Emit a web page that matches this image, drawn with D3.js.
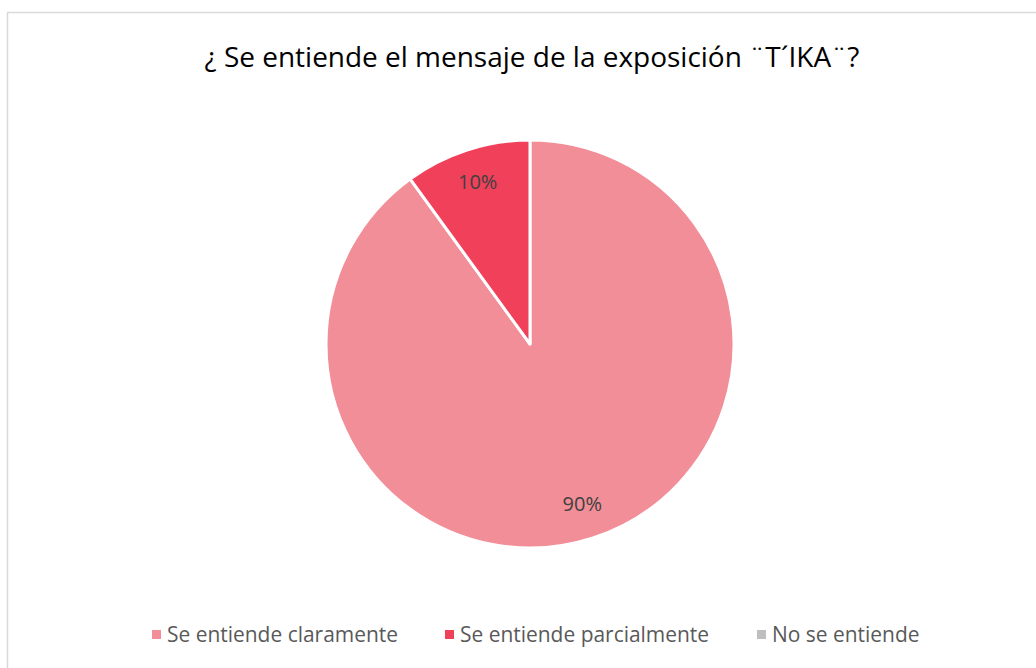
<!DOCTYPE html>
<html>
<head>
<meta charset="utf-8">
<script src="https://cdn.jsdelivr.net/npm/d3@7"></script>
<style>
  html, body { margin: 0; padding: 0; background: #fff; }
  svg { display: block; }
</style>
</head>
<body>
<svg id="chart" width="1036" height="668"></svg>
<script>
// Survey answers
const title = "¿ Se entiende el mensaje de la exposición ¨T´IKA¨?";
const categories = ["Se entiende claramente", "Se entiende parcialmente", "No se entiende"];
const values = [90, 10, 0];
const colors = ["#F28E98", "#F0405A", "#BFBFBF"];

const W = 1036, H = 668;
const svg = d3.select("#chart");
const font = "'Open Sans', 'Noto Sans', sans-serif";

// chart area frame
svg.append("rect")
  .attr("x", 7.5).attr("y", 12.5)
  .attr("width", W + 20).attr("height", H + 20)
  .attr("fill", "#fff").attr("stroke", "#D9D9D9").attr("stroke-width", 1.5);

// title, sized to span the title width
const t = svg.append("text")
  .attr("x", 532).attr("y", 67)
  .attr("text-anchor", "middle")
  .attr("font-family", font)
  .attr("font-size", 24)
  .attr("fill", "#000")
  .text(title);
const tw = t.node().getComputedTextLength();
t.attr("font-size", 24 * 655 / tw);

// pie
const cx = 530, cy = 344, r = 204;
const data = categories.map((c, i) => ({ cat: c, value: values[i], color: colors[i] }));
const pie = d3.pie().sort(null).value(d => d.value);
const arcs = pie(data);
const arc = d3.arc().innerRadius(0).outerRadius(r);
const labelArc = d3.arc().innerRadius(r * 0.83).outerRadius(r * 0.83);

const g = svg.append("g").attr("transform", `translate(${cx},${cy})`);
g.selectAll("path")
  .data(arcs.filter(a => a.data.value > 0))
  .join("path")
  .attr("d", arc)
  .attr("fill", d => d.data.color)
  .attr("stroke", "#fff")
  .attr("stroke-width", 3)
  .attr("stroke-linejoin", "round");

g.selectAll("text")
  .data(arcs.filter(a => a.data.value > 0))
  .join("text")
  .attr("transform", d => `translate(${labelArc.centroid(d)})`)
  .attr("text-anchor", "middle")
  .attr("dy", "0.3em")
  .attr("font-family", font)
  .attr("font-size", 20)
  .attr("fill", "#404040")
  .text(d => d.data.value + "%");

// legend
const legendX = [152, 445, 757];
const lg = svg.append("g");
const items = categories.map((c, i) => {
  lg.append("rect")
    .attr("x", legendX[i]).attr("y", 630)
    .attr("width", 9).attr("height", 9)
    .attr("fill", colors[i]);
  return lg.append("text")
    .attr("x", legendX[i] + 15).attr("y", 642)
    .attr("font-family", font)
    .attr("font-size", 18)
    .attr("fill", "#595959")
    .text(c);
});
const lw = items[0].node().getComputedTextLength();
items.forEach(it => it.attr("font-size", 18 * 231 / lw));
</script>
</body>
</html>
